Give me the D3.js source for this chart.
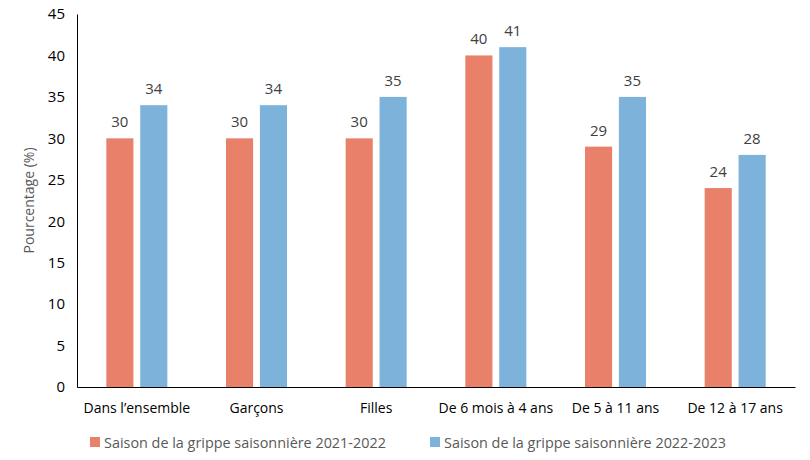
<!DOCTYPE html>
<html>
<head>
<meta charset="utf-8">
<script src="https://cdn.jsdelivr.net/npm/d3@7"></script>
<style>
  body { margin: 0; background: #fff; }
  text { font-family: "Open Sans", sans-serif; }
</style>
</head>
<body>
<div id="chart"></div>
<script>
const categories = ["Dans l\u2019ensemble", "Garçons", "Filles", "De 6 mois à 4 ans", "De 5 à 11 ans", "De 12 à 17 ans"];
const seriesNames = ["Saison de la grippe saisonnière 2021-2022", "Saison de la grippe saisonnière 2022-2023"];
const season2122 = [30, 30, 30, 40, 29, 24];
const season2223 = [34, 34, 35, 41, 35, 28];
const yTicks = [0, 5, 10, 15, 20, 25, 30, 35, 40, 45];
const colors = ["#E8806A", "#7DB3DB"];

const width = 810, height = 460;
const margin = { top: 14, right: 15, bottom: 73, left: 77 };

const svg = d3.select("#chart").append("svg")
    .attr("width", width)
    .attr("height", height);

const x0 = d3.scaleBand()
    .domain(categories)
    .range([margin.left, width - margin.right])
    .paddingInner(0.49)
    .paddingOuter(0.245);

const x1 = d3.scaleBand()
    .domain([0, 1])
    .range([0, x0.bandwidth()])
    .paddingInner(0.2);

const y = d3.scaleLinear()
    .domain([0, 45])
    .range([height - margin.bottom, margin.top]);

const rows = categories.map((c, i) => ({ cat: c, values: [season2122[i], season2223[i]] }));

const groups = svg.selectAll(".group")
    .data(rows)
    .enter().append("g")
    .attr("transform", d => `translate(${x0(d.cat)},0)`);

groups.selectAll("rect")
    .data(d => d.values.map((v, s) => ({ v, s })))
    .enter().append("rect")
    .attr("x", d => x1(d.s))
    .attr("y", d => y(d.v))
    .attr("width", x1.bandwidth())
    .attr("height", d => y(0) - y(d.v))
    .attr("fill", d => colors[d.s]);

groups.selectAll(".val")
    .data(d => d.values.map((v, s) => ({ v, s })))
    .enter().append("text")
    .attr("class", "val")
    .attr("x", d => x1(d.s) + x1.bandwidth() / 2)
    .attr("y", d => y(d.v) - 11)
    .attr("text-anchor", "middle")
    .attr("fill", "#404040")
    .style("font-size", "15px")
    .text(d => d.v);

// y axis
const yAxis = svg.append("g")
    .attr("transform", `translate(${margin.left},0)`)
    .call(d3.axisLeft(y).tickValues(yTicks).tickSize(0).tickPadding(12));
yAxis.select(".domain").attr("stroke", "#000");
yAxis.selectAll("text").attr("fill", "#000").style("font-size", "15px").style("font-family", "Open Sans");

// x axis
const xAxis = svg.append("g")
    .attr("transform", `translate(0,${y(0)})`)
    .call(d3.axisBottom(x0).tickSize(0).tickPadding(16));
xAxis.select(".domain").attr("stroke", "#000");
xAxis.selectAll("text").attr("fill", "#000").style("font-size", "14px").style("font-family", "Open Sans");

svg.append("text")
    .attr("transform", `translate(34,${(margin.top + y(0)) / 2}) rotate(-90)`)
    .attr("text-anchor", "middle")
    .attr("fill", "#595959")
    .style("font-size", "14px")
    .text("Pourcentage (%)");

// legend
const legendX = [90, 430];
const legend = svg.selectAll(".legend")
    .data(seriesNames)
    .enter().append("g")
    .attr("transform", (d, i) => `translate(${legendX[i]},437)`);
legend.append("rect")
    .attr("width", 10).attr("height", 10)
    .attr("fill", (d, i) => colors[i]);
legend.append("text")
    .attr("x", 14).attr("y", 10.5)
    .attr("fill", "#595959")
    .style("font-size", "14.4px")
    .text(d => d);
</script>
</body>
</html>
